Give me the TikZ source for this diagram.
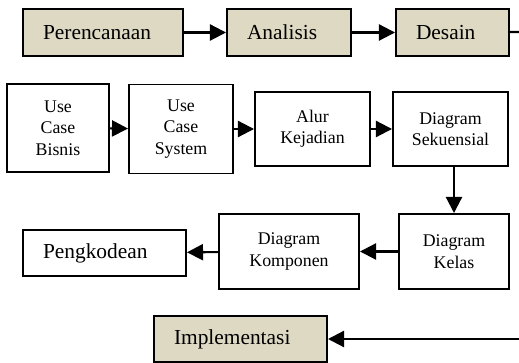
\documentclass[tikz,border=0pt]{standalone}
\usepackage{fontspec}
\setmainfont{Liberation Serif}
\usetikzlibrary{arrows.meta}
\definecolor{phasefill}{HTML}{DDD9C3}
\newlength\px
\setlength\px{0.561pt}

\begin{document}
\begin{tikzpicture}[x=\px, y=-\px,
		phase/.style={draw, line width=1.1pt, fill=phasefill, font=\fontsize{12}{14}\selectfont, align=left, inner xsep=20\px, inner ysep=0pt, minimum height=47\px},
		stepbox/.style={draw, line width=1.1pt, fill=white, font=\fontsize{10}{12}\selectfont, align=center, inner sep=0pt},
		flow/.style={-{Triangle[length=9pt,width=9pt]}, line width=1.2pt}]
		\useasboundingbox (0,0) rectangle (519,363);
		
		% Phases
		\node[phase, text width=120\px] (Perencanaan) at (103,32.5) {Perencanaan};
		\node[phase, text width=84\px] (Analisis) at (289,32.5) {Analisis};
		\node[phase, text width=73\px] (Desain) at (452.5,32.5) {Desain};
		\node[phase, text width=133\px, minimum height=46\px] (Implementasi) at (240.5,339) {Implementasi};
		
		\coordinate (Desain-out) at (519,32);
		\coordinate (Implementasi-in) at (519,339);
		
		% Design steps
		\node[stepbox, minimum width=102\px, minimum height=88\px] (UCBisnis) at (58,128) {Use\\Case\\Bisnis};
		\node[stepbox, minimum width=104\px, minimum height=89\px] (UCSystem) at (181,129) {Use\\Case\\System};
		\node[stepbox, minimum width=115\px, minimum height=74\px] (Alur) at (312.5,129) {Alur\\Kejadian};
		\node[stepbox, minimum width=115\px, minimum height=74\px] (Sekuensial) at (450.5,129) {Diagram\\Sekuensial};
		\node[stepbox, minimum width=110\px, minimum height=75\px] (Kelas) at (454,251.5) {Diagram\\Kelas};
		\node[stepbox, minimum width=140\px, minimum height=75\px] (Komponen) at (289,251.5) {Diagram\\Komponen};
		\node[phase, fill=white, text width=123\px, minimum height=46\px] (Pengkodean) at (104.5,253) {Pengkodean};
		
		% Phase arrows
		\draw[flow] (Perencanaan) -- (Analisis);
		\draw[flow] (Analisis) -- (Desain);
		\draw[line width=1.2pt] (Desain) -- (Desain-out);
		\draw[flow] (Implementasi-in) -- (Implementasi);
		
		% Step arrows
		\draw[flow] (UCBisnis) -- (UCSystem);
		\draw[flow] (UCSystem) -- (Alur);
		\draw[flow] (Alur) -- (Sekuensial);
		\draw[flow] (Sekuensial.south -| Kelas.north) -- (Kelas);
		\draw[flow] (Kelas) -- (Komponen);
		\draw[flow] (Komponen) -- (Pengkodean);
	\end{tikzpicture}
\end{document}
